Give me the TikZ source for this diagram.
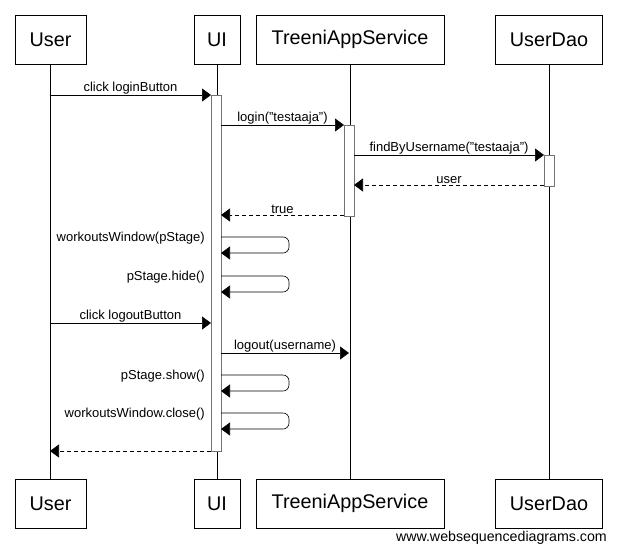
\documentclass[tikz,border=0pt]{standalone}
\usepackage{fontspec}
\setmainfont{Liberation Sans}
\usetikzlibrary{arrows.meta}
\begin{document}
\begin{tikzpicture}[x=1pt,y=-1pt,
  actor/.style={draw,line width=0.8pt,minimum height=49pt,inner xsep=0pt,font=\fontsize{19.8}{22}\selectfont},
  life/.style={line width=0.6pt},
  act/.style={draw=black!55,fill=white,line width=1pt},
  msg/.style={line width=0.6pt,-{Triangle[length=9pt,width=13pt]}},
  ret/.style={msg,dash pattern=on 4pt off 3pt},
  lbl/.style={font=\fontsize{13}{15}\selectfont,inner sep=1pt},
  selfloop/.style={msg,rounded corners=6pt}]
\useasboundingbox (0,0) rectangle (617,551);
% actors top
\node[actor,minimum width=71pt] (ut) at (50.5,39.5) {User};
\node[actor,minimum width=46pt] (it) at (217,39.5) {UI};
\node[actor,minimum width=188pt] (st) at (350,39.5) {TreeniAppService};
\node[actor,minimum width=107pt] (dt) at (549,39.5) {UserDao};
% actors bottom
\node[actor,minimum width=71pt] (ub) at (50.5,503.5) {User};
\node[actor,minimum width=46pt] (ib) at (217,503.5) {UI};
\node[actor,minimum width=188pt] (sb) at (350,503.5) {TreeniAppService};
\node[actor,minimum width=107pt] (db) at (549,503.5) {UserDao};
\node[anchor=east,font=\fontsize{14.2}{16}\selectfont,inner sep=0pt] (wsd) at (607,538) {www.websequencediagrams.com};
% lifelines
\draw[life] (ut.south) -- (ub.north);
\draw[life] (it.south) -- (ib.north);
\draw[life] (st.south) -- (sb.north);
\draw[life] (dt.south) -- (db.north);
% activations
\node[act,minimum width=10pt,minimum height=356pt,inner sep=0pt] (aui) at (216,273) {};
\node[act,minimum width=10pt,minimum height=91pt,inner sep=0pt] (asv) at (349,170.5) {};
\node[act,minimum width=10pt,minimum height=31pt,inner sep=0pt] (adao) at (549,170.5) {};
% coordinates
\coordinate (u1) at (50,95); \coordinate (i1) at (211,95);
\coordinate (i2) at (221,125); \coordinate (s2) at (344,125);
\coordinate (s3) at (354,155); \coordinate (d3) at (544,155);
\coordinate (d4) at (544,185); \coordinate (s4) at (354,185);
\coordinate (s5) at (344,215); \coordinate (i5) at (221,215);
\coordinate (u8) at (50,323); \coordinate (i8) at (211,323);
\coordinate (i9) at (221,353); \coordinate (s9) at (349,353);
\coordinate (i12) at (211,451); \coordinate (u12) at (50,451);
% messages
\draw[msg] (u1) -- node[lbl,above] {click loginButton} (i1);
\draw[msg] (i2) -- node[lbl,above] {login("testaaja")} (s2);
\draw[msg] (s3) -- node[lbl,above] {findByUsername("testaaja")} (d3);
\draw[ret] (d4) -- node[lbl,above] {user} (s4);
\draw[ret] (s5) -- node[lbl,above] {true} (i5);
% self loops
\foreach \y/\t/\n in {237/workoutsWindow(pStage)/l1, 276/pStage.hide()/l2, 375/pStage.show()/l3, 413/workoutsWindow.close()/l4}{
  \coordinate (\n a) at (221,\y);
  \coordinate (\n b) at (221,\y+16);
  \draw[selfloop] (\n a) -- ++(68,0) |- (\n b);
  \node[lbl,anchor=east] (\n t) at (206,\y+1) {\t};
}
\draw[msg] (u8) -- node[lbl,above] {click logoutButton} (i8);
\draw[msg] (i9) -- node[lbl,above] {logout(username)} (s9);
\draw[ret] (i12) -- (u12);
\end{tikzpicture}
\end{document}
